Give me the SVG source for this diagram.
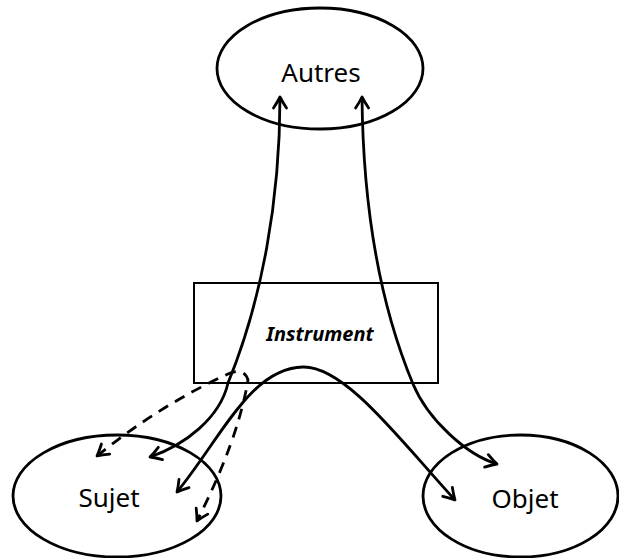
<svg xmlns="http://www.w3.org/2000/svg" width="619" height="558" viewBox="0 0 619 558">
  <defs>
    <style>
      .node { fill: #ffffff; stroke: #000000; stroke-width: 2.8; }
      .box { fill: #ffffff; stroke: #000000; stroke-width: 2; }
      .label { font-family: "Noto Sans", "Open Sans", sans-serif; font-size: 26px; fill: #000000; text-anchor: middle; }
      .ilabel { font-family: "Noto Sans", "Open Sans", sans-serif; font-size: 20px; font-weight: bold; font-style: italic; fill: #000000; text-anchor: middle; }
      .conn { fill: none; stroke: #000000; stroke-width: 2.8; marker-start: url(#arr); marker-end: url(#arr); }
      .dash { stroke-dasharray: 11 8; }
    </style>
    <marker id="arr" viewBox="-14 -9 16 18" refX="0" refY="0" markerWidth="16" markerHeight="18" markerUnits="userSpaceOnUse" orient="auto-start-reverse">
      <path d="M -11 -6.5 Q -5 -2.5 0 0 Q -5 2.5 -11 6.5" fill="none" stroke="#000000" stroke-width="2.8" stroke-linecap="round" stroke-linejoin="round"/>
      <path d="M 0 0 L -6 -3 L -4 0 L -6 3 Z" fill="#000000"/>
    </marker>
  </defs>

  <g id="node-autres">
    <ellipse class="node" cx="320" cy="68.5" rx="103" ry="60.5"/>
    <text class="label" x="321" y="82">Autres</text>
  </g>

  <g id="node-sujet">
    <ellipse class="node" cx="117" cy="496" rx="104" ry="61"/>
    <text class="label" x="109" y="507">Sujet</text>
  </g>

  <g id="node-objet">
    <ellipse class="node" cx="520.5" cy="496" rx="97.5" ry="61"/>
    <text class="label" x="525" y="508">Objet</text>
  </g>

  <g id="node-instrument">
    <rect class="box" x="194" y="283" width="244" height="100"/>
    <text class="ilabel" x="320" y="341">Instrument</text>
  </g>

  <g id="connectors">
    <path class="conn" d="M 280 97 C 280 200, 262 300, 228 383 C 220 418, 185 445, 150 457"/>
    <path class="conn" d="M 362 97 C 363 200, 378 300, 413 384 C 428 420, 467 455, 497 464"/>
    <path class="conn" d="M 177 492 C 220 440, 250 368, 303 367 C 345 366, 400 440, 455 500"/>
    <path class="conn dash" d="M 97 456 Q 160 405 228 374 Q 244 367 248 380 Q 238 440 197 521"/>
  </g>
</svg>
